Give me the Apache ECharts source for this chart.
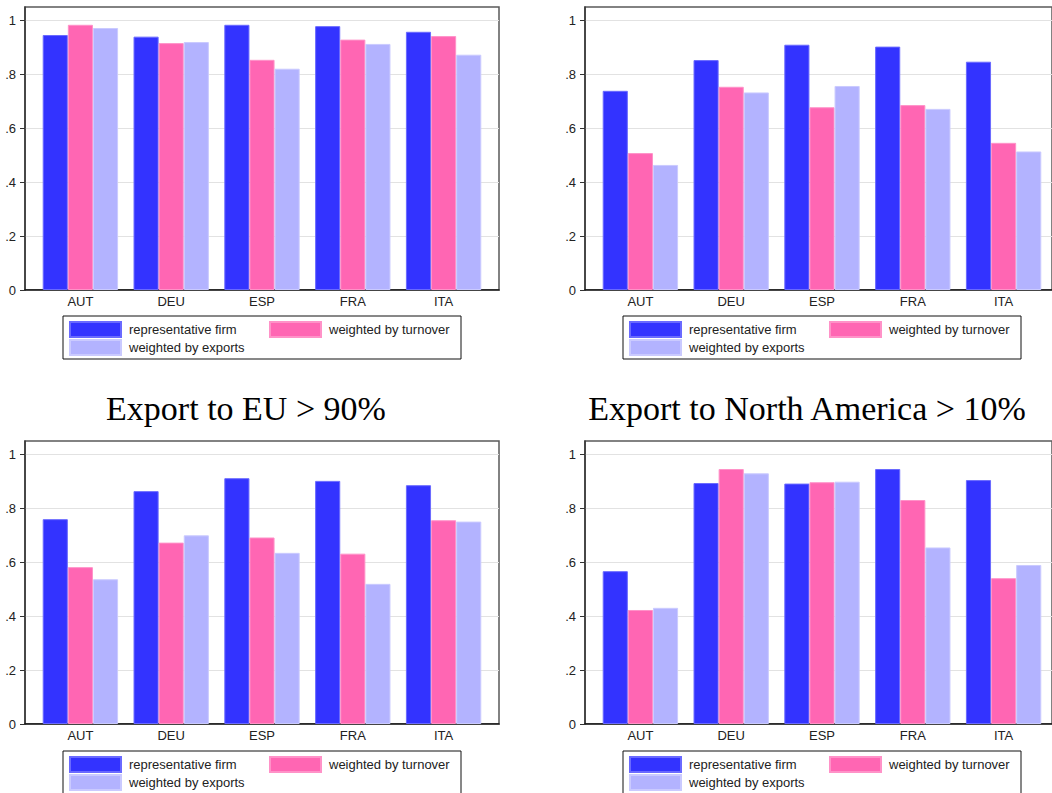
<!DOCTYPE html>
<html>
<head>
<meta charset="utf-8">
<script src="https://cdn.jsdelivr.net/npm/echarts@6/dist/echarts.min.js"></script>
<style>
html,body{margin:0;padding:0;background:#fff;}
#chart{width:1052px;height:793px;}
</style>
</head>
<body>
<div id="chart"></div>
<script>
const countries = ['AUT', 'DEU', 'ESP', 'FRA', 'ITA'];
const seriesNames = ['representative firm', 'weighted by turnover', 'weighted by exports'];
const yTicks = [0, 0.2, 0.4, 0.6, 0.8, 1];
const panelTitles = ['Export to EU > 90%', 'Export to North America > 10%'];

// top-left panel
const p1Rep  = [0.946, 0.940, 0.984, 0.979, 0.958];
const p1Turn = [0.984, 0.916, 0.854, 0.929, 0.942];
const p1Exp  = [0.972, 0.920, 0.821, 0.913, 0.873];
// top-right panel
const p2Rep  = [0.739, 0.853, 0.910, 0.903, 0.847];
const p2Turn = [0.508, 0.754, 0.678, 0.686, 0.546];
const p2Exp  = [0.464, 0.733, 0.757, 0.672, 0.514];
// bottom-left panel (Export to EU > 90%)
const p3Rep  = [0.760, 0.864, 0.912, 0.902, 0.886];
const p3Turn = [0.582, 0.673, 0.692, 0.632, 0.756];
const p3Exp  = [0.537, 0.700, 0.635, 0.520, 0.751];
// bottom-right panel (Export to North America > 10%)
const p4Rep  = [0.567, 0.894, 0.892, 0.946, 0.905];
const p4Turn = [0.423, 0.946, 0.897, 0.831, 0.541];
const p4Exp  = [0.431, 0.930, 0.899, 0.655, 0.590];

const panels = [
  {rep: p1Rep, turn: p1Turn, exp: p1Exp, left: 25,  top: 7,   legTop: 316},
  {rep: p2Rep, turn: p2Turn, exp: p2Exp, left: 585, top: 7,   legTop: 316},
  {rep: p3Rep, turn: p3Turn, exp: p3Exp, left: 25,  top: 441, legTop: 751},
  {rep: p4Rep, turn: p4Turn, exp: p4Exp, left: 585, top: 441, legTop: 751}
];

const colors = ['#3333ff', '#ff66b3', '#b3b3ff'];
const borders = ['#6a6aff', '#ff92c8', '#cacaff'];
const FW = 474, FH = 283, INSET = 10, YMAX = 1.05;
const fontSans = '"Liberation Sans", Arial, sans-serif';

const grid = [], xAxis = [], yAxis = [], series = [], legend = [];
panels.forEach((p, i) => {
  // frame grid (axis, ticks, gridlines)
  grid.push({left: p.left, top: p.top, width: FW, height: FH, show: true,
    borderColor: '#5a5a5a', borderWidth: 1.5, backgroundColor: 'transparent'});
  xAxis.push({gridIndex: 2 * i, type: 'value', min: 0, max: 1,
    axisLine: {show: true, onZero: false, lineStyle: {color: '#111', width: 1.5}},
    axisTick: {show: false}, axisLabel: {show: false}, splitLine: {show: false}});
  yAxis.push({gridIndex: 2 * i, type: 'value', min: 0, max: YMAX, interval: 0.2,
    axisLine: {show: true, lineStyle: {color: '#333', width: 1.5}},
    axisTick: {show: true, length: 5, lineStyle: {color: '#333', width: 1}, customValues: yTicks},
    axisLabel: {show: true, margin: 9, fontSize: 13, color: '#222', fontFamily: fontSans,
      customValues: yTicks,
      formatter: v => v === 0 ? '0' : (Math.abs(v - 1) < 1e-9 ? '1' : v.toFixed(1).replace(/^0\./, '.'))},
    splitLine: {show: true, lineStyle: {color: '#e2e2e2', width: 1}}});
  // bar grid
  grid.push({left: p.left + INSET, top: p.top, width: FW - 2 * INSET, height: FH});
  xAxis.push({gridIndex: 2 * i + 1, type: 'category', data: countries,
    axisLine: {show: false}, axisTick: {show: false},
    axisLabel: {margin: 5, fontSize: 13, color: '#222', fontFamily: fontSans}});
  yAxis.push({gridIndex: 2 * i + 1, type: 'value', min: 0, max: YMAX, show: false});
  [p.rep, p.turn, p.exp].forEach((d, k) => {
    series.push({type: 'bar', name: seriesNames[k], xAxisIndex: 2 * i + 1, yAxisIndex: 2 * i + 1,
      data: d, barGap: '0%', barCategoryGap: '17%',
      itemStyle: {color: colors[k], borderColor: borders[k], borderWidth: 1},
      emphasis: {disabled: true}});
  });
  legend.push({left: p.left + 38, top: p.legTop, orient: 'horizontal', width: 396,
    data: seriesNames, itemWidth: 51, itemHeight: 15, itemGap: 1,
    padding: [5, 8, 3, 6], borderColor: '#111', borderWidth: 1, borderRadius: 0,
    icon: 'rect', selectedMode: false,
    formatter: name => (name === seriesNames[1] ? '{v|' : '{w|') + name + '}',
    textStyle: {fontSize: 13, color: '#222', fontFamily: fontSans, lineHeight: 15,
      rich: {
        w: {width: 139, fontSize: 13, color: '#222', fontFamily: fontSans, lineHeight: 15, padding: [0, 0, 0, 3]},
        v: {width: 124, fontSize: 13, color: '#222', fontFamily: fontSans, lineHeight: 15, padding: [0, 0, 0, 3]}
      }}});
});

const option = {
  animation: false,
  color: colors,
  grid, xAxis, yAxis, series, legend,
  graphic: [
    {type: 'text', x: 246, y: 408, style: {text: panelTitles[0], fill: '#000',
      font: '34px "Liberation Serif", "DejaVu Serif", serif', textAlign: 'center', textVerticalAlign: 'middle'}},
    {type: 'text', x: 807, y: 408, style: {text: panelTitles[1], fill: '#000',
      font: '34px "Liberation Serif", "DejaVu Serif", serif', textAlign: 'center', textVerticalAlign: 'middle'}}
  ]
};

const chart = echarts.init(document.getElementById('chart'), null, {renderer: 'svg'});
chart.setOption(option);
</script>
</body>
</html>
